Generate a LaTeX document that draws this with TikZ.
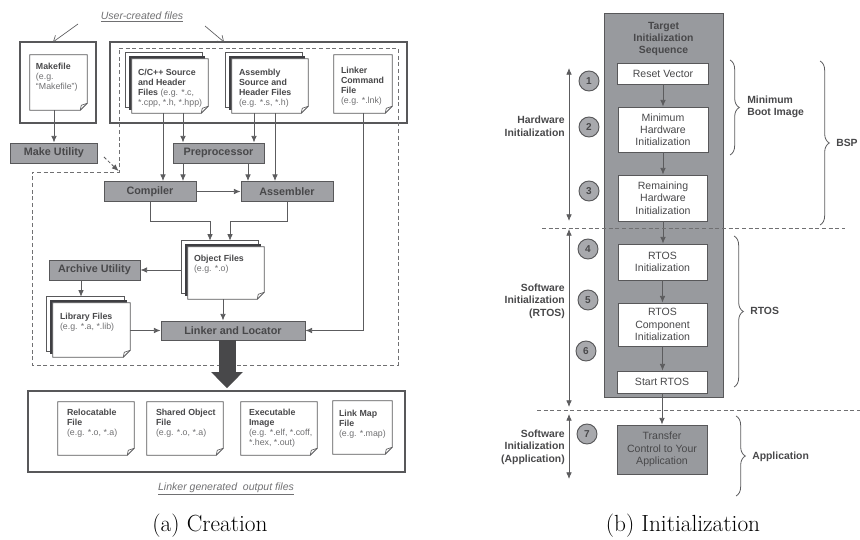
\documentclass[tikz,border=0pt]{standalone}
\usepackage{fontspec}
\newfontfamily\arial{Liberation Sans}
\usetikzlibrary{arrows.meta,calc,decorations.pathreplacing}
\pgfdeclarelayer{pages}
\pgfsetlayers{pages,main}

\definecolor{boxgray}{RGB}{160,161,165}
\definecolor{colgray}{RGB}{152,154,158}
\definecolor{circgray}{RGB}{168,169,173}
\definecolor{edgecol}{RGB}{88,88,90}
\definecolor{txtcol}{RGB}{72,72,74}
\definecolor{lightcol}{RGB}{112,112,114}
\definecolor{conncol}{RGB}{92,92,94}
\definecolor{darkpage}{RGB}{62,62,66}
\definecolor{bigarrow}{RGB}{72,72,74}

\tikzset{
  sz/.style 2 args={minimum width=#1*0.75pt, minimum height=#2*0.75pt},
  conn/.style={draw=conncol, line width=0.6pt, -{Latex[length=5pt,width=4.2pt]}},
  dconn/.style={draw=conncol, line width=0.6pt, {Latex[length=5pt,width=4.2pt]}-{Latex[length=5pt,width=4.2pt]}},
  openarr/.style={draw=conncol, line width=0.5pt, -{Straight Barb[length=4pt,width=6pt]}},
  gbox/.style={draw=edgecol, fill=boxgray, line width=0.7pt, inner sep=0pt,
    font=\arial\bfseries\fontsize{8.1}{9.7}\selectfont, text=txtcol},
  docnode/.style={inner sep=0pt, draw=none},
  docline/.style={draw=edgecol, line width=0.7pt},
  dtext/.style={anchor=north west, inner sep=0pt, align=left,
    font=\arial\fontsize{6.6}{7.5}\selectfont, text=txtcol},
  frame/.style={draw=edgecol, line width=1.3pt, inner sep=0pt},
  wbox/.style={draw=edgecol, fill=white, line width=0.6pt, inner sep=0pt, align=center,
    font=\arial\fontsize{7.9}{9.2}\selectfont, text=txtcol},
  num/.style={circle, draw=edgecol, fill=circgray, line width=0.7pt, minimum size=15pt,
    inner sep=0pt, font=\arial\bfseries\fontsize{7.5}{9}\selectfont, text=txtcol},
  blabel/.style={inner sep=0pt, align=right, font=\arial\bfseries\fontsize{7.8}{9.4}\selectfont, text=txtcol},
  rlabel/.style={inner sep=0pt, align=left, font=\arial\bfseries\fontsize{7.8}{9.4}\selectfont, text=txtcol},
  brace/.style={draw=conncol, line width=0.6pt, decorate, decoration={brace, amplitude=7pt}},
  ititle/.style={inner sep=0pt, font=\arial\itshape\fontsize{7.9}{9.5}\selectfont, text=lightcol},
  caption/.style={inner sep=0pt, font=\fontsize{17.5}{21}\selectfont, text=black},
  sepline/.style={draw=lightcol, line width=0.5pt, dash pattern=on 3pt off 2pt},
}

% a single page with a folded lower right corner
\newcommand\docpage[1]{%
  \begin{pgfonlayer}{pages}
    \draw[docline, fill=white] (#1.north west) -- (#1.north east)
      -- ([shift={(0,-7)}]#1.south east) -- ([shift={(-7,0)}]#1.south east)
      -- (#1.south west) -- cycle;
    \draw[docline, line width=0.5pt] ([shift={(0,-7)}]#1.south east)
      -- ([shift={(-6,-5)}]#1.south east) -- ([shift={(-7,0)}]#1.south east);
  \end{pgfonlayer}}

% a stack of pages: a white back page, a dark middle one, the front page
\newcommand\docstack[1]{%
  \begin{pgfonlayer}{pages}
    \draw[docline, fill=white, line width=0.5pt] (#1.north west) rectangle ([shift={(-6,-6)}]#1.south east);
    \fill[darkpage] ([shift={(3,3)}]#1.north west) rectangle ([shift={(-3,-3)}]#1.south east);
    \draw[docline, fill=white] ([shift={(6,6)}]#1.north west) -- ([shift={(0,6)}]#1.north east)
      -- ([shift={(0,-7)}]#1.south east) -- ([shift={(-7,0)}]#1.south east)
      -- ([shift={(6,0)}]#1.south west) -- cycle;
    \draw[docline, line width=0.5pt] ([shift={(0,-7)}]#1.south east)
      -- ([shift={(-6,-5)}]#1.south east) -- ([shift={(-7,0)}]#1.south east);
  \end{pgfonlayer}}

\newcommand\eg[1]{{\color{lightcol}#1}}

\begin{document}
\begin{tikzpicture}[x=0.75pt,y=-0.75pt]
\useasboundingbox (0,0) rectangle (860,539);

% ---------------- (a) creation ----------------
\node[ititle] (uc) at (142,17) {\underline{User-created files}};

\node[frame, sz={76}{81}] (mkf) at (58,82.5) {};
\node[frame, sz={297}{81}] (srcf) at (258.5,82.5) {};
\coordinate (u1s) at (78,24);  \coordinate (u1e) at (53,42);
\coordinate (u2s) at (205,26); \coordinate (u2e) at (224,42);
\draw[openarr] (u1s) -- (u1e);
\draw[openarr] (u2s) -- (u2e);

% dashed outline of the toolchain driven by the make utility
\draw[sepline] (119,48) -- (398,48) -- (398,365) -- (32,365) -- (32,172) -- (119,172) -- cycle;

% source documents
\node[docnode, sz={57}{55}] (mk) at (58.5,82.5) {};
\docpage{mk}
\node[dtext] (mk-t) at ([shift={(6,8)}]mk.north west)
  {\textbf{Makefile}\\\eg{(e.g.}\\\eg{“Makefile”)}};

\node[docnode, sz={82}{60}] (cc) at (167,83) {};
\docstack{cc}
\node[dtext] (cc-t) at ([shift={(12,16)}]cc.north west)
  {\textbf{C/C++ Source}\\\textbf{and Header}\\\textbf{Files} \eg{ (e.g. *.c,}\\\eg{*.cpp, *.h, *.hpp)}};

\node[docnode, sz={82}{60}] (asm) at (267,83) {};
\docstack{asm}
\node[dtext] (asm-t) at ([shift={(13,16)}]asm.north west)
  {\textbf{Assembly}\\\textbf{Source and}\\\textbf{Header Files}\\\eg{(e.g. *.s, *.h)}};

\node[docnode, sz={58}{58}] (lnk) at (363,84) {};
\docpage{lnk}
\node[dtext] (lnk-t) at ([shift={(7,12)}]lnk.north west)
  {\textbf{Linker}\\\textbf{Command}\\\textbf{File}\\\eg{(e.g. *.lnk)}};

% tools
\node[gbox, sz={87}{20}] (mu) at (54,153) {Make Utility};
\node[gbox, sz={91}{20}] (pre) at (218.5,153) {Preprocessor};
\node[gbox, sz={92}{20}] (comp) at (150,191.5) {Compiler};
\node[gbox, sz={92}{20}] (as) at (287,191.5) {Assembler};
\node[gbox, sz={91}{20}] (arch) at (94.5,270) {Archive Utility};
\node[gbox, sz={144}{19}] (link) at (233,330.5) {Linker and Locator};

% intermediate files
\node[docnode, sz={82}{58}] (obj) at (223,270) {};
\docstack{obj}
\node[dtext] (obj-t) at ([shift={(12,14)}]obj.north west)
  {\textbf{Object Files}\\\eg{(e.g. *.o)}};

\node[docnode, sz={83}{60}] (lib) at (88.5,327) {};
\docstack{lib}
\node[dtext] (lib-t) at ([shift={(13,16)}]lib.north west)
  {\textbf{Library Files}\\\eg{(e.g. *.a, *.lib)}};

% connectors
\coordinate (xa) at (163,0); \coordinate (xb) at (183,0);
\coordinate (xd) at (254,0); \coordinate (xe) at (275,0);
\coordinate (xf) at (248,0); \coordinate (xg) at (81,0);
\draw[conn] (mk.south -| mu.north) -- (mu.north);
\coordinate (dcorner) at (118.5,171);
\draw[conn, dash pattern=on 2.5pt off 1.5pt] ([shift={(6,4)}]mu.east) -- (dcorner);
\draw[conn] (cc.south -| xa) -- (comp.north -| xa);
\draw[conn] (cc.south -| xb) -- (pre.north -| xb);
\draw[conn] (pre.south -| xb) -- (comp.north -| xb);
\draw[conn] (asm.south -| xd) -- (pre.north -| xd);
\draw[conn] (pre.south -| xf) -- (as.north -| xf);
\draw[conn] (asm.south -| xe) -- (as.north -| xe);
\draw[conn] (comp.east) -- (as.west);
\coordinate (j1) at (210,221); \coordinate (j2) at (230,221);
\draw[conn] (comp.south) |- (j1) -- (j1 |- obj.north);
\draw[conn] (as.south) |- (j2) -- (j2 |- obj.north);
\draw[conn] (obj.west) -- (obj.west -| arch.east);
\draw[conn] (arch.south -| xg) -- (lib.north -| xg);
\draw[conn] (obj.south) -- (obj.south |- link.north);
\draw[conn] (link.west -| lib.east) -- (link.west);
\draw[conn] (lnk.south) |- (link.east);

% output files
\node[frame, sz={377}{81}] (outf) at (216.5,431.5) {};
\coordinate (bx) at (227,0);
\draw[bigarrow, line width=12.75pt, -{Triangle[length=12pt,width=23pt]}]
  (link.south -| bx) -- ([shift={(0,-2)}]outf.north -| bx);

\node[docnode, sz={76}{53}] (reloc) at (96,428.5) {};
\docpage{reloc}
\node[dtext] (reloc-t) at ([shift={(9,7)}]reloc.north west)
  {\textbf{Relocatable}\\\textbf{File}\\\eg{(e.g. *.o, *.a)}};
\node[docnode, sz={76}{53}] (shared) at (185,428.5) {};
\docpage{shared}
\node[dtext] (shared-t) at ([shift={(9,7)}]shared.north west)
  {\textbf{Shared Object}\\\textbf{File}\\\eg{(e.g. *.o, *.a)}};
\node[docnode, sz={76}{53}] (exe) at (279,428.5) {};
\docpage{exe}
\node[dtext] (exe-t) at ([shift={(8,7)}]exe.north west)
  {\textbf{Executable}\\\textbf{Image}\\\eg{(e.g. *.elf, *.coff,}\\\eg{*.hex, *.out)}};
\node[docnode, sz={59}{53}] (lmap) at (362.5,427.5) {};
\docpage{lmap}
\node[dtext] (lmap-t) at ([shift={(6,9)}]lmap.north west)
  {\textbf{Link Map}\\\textbf{File}\\\eg{(e.g. *.map)}};

\node[ititle] (lg) at (226,489) {\underline{Linker generated\ \ output files}};
\node[caption] (capa) at (210,526) {(a) Creation};

% ---------------- (b) initialization ----------------
\node[draw=edgecol, fill=colgray, line width=0.6pt, sz={119}{384}] (col) at (663.5,205) {};
\node[inner sep=0pt, align=center, font=\arial\bfseries\fontsize{7.8}{9.2}\selectfont, text=txtcol]
  (ttl) at (663.5,39) {Target\\Initialization\\Sequence};

\node[wbox, sz={91}{21}] (rv) at (663,73.5) {Reset Vector};
\node[wbox, sz={90}{45}] (mhi) at (663,129.5) {Minimum\\Hardware\\Initialization};
\node[wbox, sz={89}{46}] (rhi) at (663,198) {Remaining\\Hardware\\Initialization};
\node[wbox, sz={89}{36}] (ri) at (662.5,262) {RTOS\\Initialization};
\node[wbox, sz={89}{43}] (rci) at (662.5,324.5) {RTOS\\Component\\Initialization};
\node[wbox, sz={90}{22}] (sr) at (662,382) {Start RTOS};
\node[wbox, fill=colgray, sz={90}{49}] (tc) at (662,449.5) {Transfer\\Control to Your\\Application};

\draw[conn] (rv.south) -- (rv.south |- mhi.north);
\draw[conn] (mhi.south) -- (mhi.south |- rhi.north);
\draw[conn] (rhi.south) -- (rhi.south |- ri.north);
\draw[conn] (ri.south) -- (ri.south |- rci.north);
\draw[conn] (rci.south) -- (rci.south |- sr.north);
\draw[conn] (sr.south) -- (sr.south |- tc.north);

% step numbers
\node[num] (n1) at (589,81) {1};
\node[num] (n2) at (589,127) {2};
\node[num] (n3) at (589,191) {3};
\node[num] (n4) at (588,249) {4};
\node[num] (n5) at (588,300) {5};
\node[num] (n6) at (586,351) {6};
\node[num] (n7) at (587,434) {7};

% phase separators
\draw[sepline] (542,228) -- (845,228);
\draw[sepline] (537,410) -- (860,410);

% phase extents
\coordinate (h1t) at (569,68);  \coordinate (h1b) at (569,221);
\coordinate (h2t) at (569,229); \coordinate (h2b) at (569,407);
\coordinate (h3t) at (569,414); \coordinate (h3b) at (569,479);
\draw[dconn] (h1t) -- (h1b);
\draw[dconn] (h2t) -- (h2b);
\draw[dconn] (h3t) -- (h3b);

\node[blabel, anchor=east] (hw) at (565,126.5) {Hardware\\Initialization};
\node[blabel, anchor=east] (swr) at (565,301) {Software\\Initialization\\(RTOS)};
\node[blabel, anchor=east] (swa) at (565,447) {Software\\Initialization\\(Application)};

% groupings
\coordinate (b1t) at (730,60);  \coordinate (b1b) at (730,155);
\coordinate (b2t) at (820,61);  \coordinate (b2b) at (820,225);
\coordinate (b3t) at (734,236); \coordinate (b3b) at (734,387);
\coordinate (b4t) at (736,416); \coordinate (b4b) at (736,496);
\draw[brace] (b1t) -- (b1b);
\draw[brace] (b2t) -- (b2b);
\draw[brace] (b3t) -- (b3b);
\draw[brace] (b4t) -- (b4b);
\node[rlabel, anchor=west] (mbi) at (747,107) {Minimum\\Boot Image};
\node[rlabel, anchor=west] (bsp) at (836,143) {BSP};
\node[rlabel, anchor=west] (rtos) at (750,311) {RTOS};
\node[rlabel, anchor=west] (app) at (752,457) {Application};

\node[caption] (capb) at (683,526) {(b) Initialization};
\end{tikzpicture}
\end{document}
